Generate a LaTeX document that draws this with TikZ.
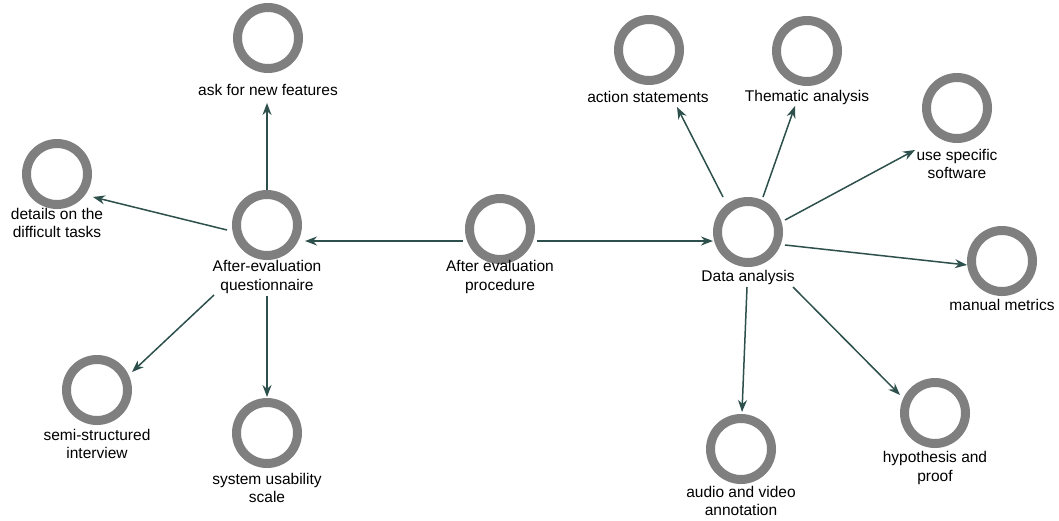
\documentclass[tikz,border=0pt]{standalone}
\usepackage{fontspec}
\setmainfont{Liberation Sans}
\usetikzlibrary{arrows.meta,calc}

\definecolor{ringgray}{HTML}{7F7F7F}
\definecolor{linkteal}{HTML}{2D504C}

\tikzset{
  ring/.style={circle, draw=ringgray, line width=9pt, fill=white,
               minimum size=61pt, inner sep=0pt},
  caption/.style={align=center, inner sep=0pt,
                  font=\fontsize{15.5pt}{18.5pt}\selectfont},
  link/.style={draw=linkteal, line width=1.5pt,
               -{Stealth[length=12pt,width=9pt]}},
}

\begin{document}
\begin{tikzpicture}[x=1pt,y=-1pt]
  \useasboundingbox[fill=white] (0,0) rectangle (1059,520);

  % central procedure
  \node[ring] (p) at (500,229) {};
  \node[caption] (pl) at (500,277) {After evaluation\\procedure};

  % questionnaire branch
  \node[ring] (q) at (267,225) {};
  \node[caption] (ql) at (267,277) {After-evaluation\\questionnaire};
  \node[ring] (ask) at (268,38) {};
  \node[caption] (askl) at (268,90) {ask for new features};
  \node[ring] (det) at (57,174) {};
  \node[caption] (detl) at (57,223) {details on the\\difficult tasks};
  \node[ring] (semi) at (97,390) {};
  \node[caption] (semil) at (97,444) {semi-structured\\interview};
  \node[ring] (sus) at (267,433) {};
  \node[caption] (susl) at (267,488) {system usability\\scale};

  % data analysis branch
  \node[ring] (da) at (748,232) {};
  \node[caption] (dal) at (748,277) {Data analysis};
  \node[ring] (act) at (649,50) {};
  \node[caption] (actl) at (648,97) {action statements};
  \node[ring] (them) at (807,51) {};
  \node[caption] (theml) at (807,97) {Thematic analysis};
  \node[ring] (soft) at (957,108) {};
  \node[caption] (softl) at (957,164) {use specific\\software};
  \node[ring] (mm) at (1002,261) {};
  \node[caption] (mml) at (1002,305) {manual metrics};
  \node[ring] (av) at (741,449) {};
  \node[caption] (avl) at (741,501) {audio and video\\annotation};
  \node[ring] (hyp) at (935,413) {};
  \node[caption] (hypl) at (935,468) {hypothesis and\\proof};

  % connectors
  \draw[link] ($(p)+(-37,12)$) -- ($(q)+(38,16)$);
  \draw[link] ($(p)+(37,12)$) -- ($(da)+(-35,9)$);

  \draw[link] ($(q)+(0,-35)$) -- ($(ask)+(-1,65)$);
  \draw[link] ($(q)+(-40,5)$) -- ($(det)+(36,23)$);
  \draw[link] ($(q)+(-53,70)$) -- ($(semi)+(35,-18)$);
  \draw[link] ($(q)+(0,71)$) -- ($(sus)+(0,-36)$);

  \draw[link] ($(da)+(-25,-35)$) -- ($(act)+(28,57)$);
  \draw[link] ($(da)+(15,-35)$) -- ($(them)+(-12,55)$);
  \draw[link] ($(da)+(37,-12)$) -- ($(soft)+(-42,42)$);
  \draw[link] ($(da)+(37,13)$) -- ($(mm)+(-35,4)$);
  \draw[link] ($(da)+(-1,55)$) -- ($(av)+(1,-37)$);
  \draw[link] ($(da)+(45,55)$) -- ($(hyp)+(-35,-18)$);
\end{tikzpicture}
\end{document}
